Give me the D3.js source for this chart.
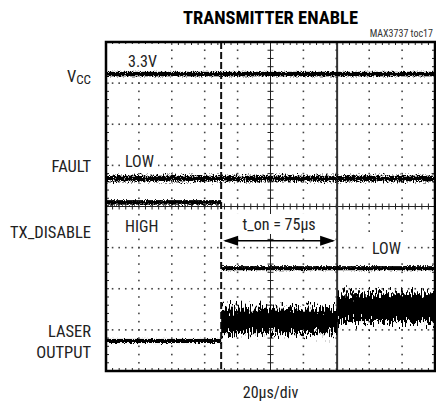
<!DOCTYPE html>
<html>
<head>
<meta charset="utf-8">
<script src="https://cdn.jsdelivr.net/npm/d3@7"></script>
<style>
  body { margin: 0; background: #fff; }
  text { font-family: "Liberation Sans Narrow", "Arial Narrow", "Roboto Condensed", sans-serif; }
</style>
</head>
<body>
<div id="graf"></div>
<script>
// time axis in µs (20µs/div, 10 div), vertical in divisions (8 div)
const timeDomain = [-100, 100];
const divDomain = [-4, 4];

// trace segments: [t start, t end, level (div), half thickness (div)]
const vccTrace = [[-100, 100, 3.22, 0.055]];
const faultTrace = [[-100, 100, 0.68, 0.07]];
const txTrace = [[-100, -30, 0.1, 0.055], [-30, 100, -1.5, 0.05]];
const laserTrace = [[-100, -30, -3.27, 0.05], [-30, 40.5, -2.77, 0.31], [40.5, 100, -2.46, 0.35]];

const cursors = [-30, 40.5];
const channelNames = ["V", "FAULT", "TX_DISABLE", "LASER", "OUTPUT"];
const stateLabels = ["3.3V", "LOW", "HIGH", "LOW"];

let width = 436, height = 406;
let x = d3.scaleLinear().domain(timeDomain).range([106, 435]);
let y = d3.scaleLinear().domain(divDomain).range([371, 42]);

let svg = d3.select("#graf").append("svg")
            .attr("width", width)
            .attr("height", height)
            .attr("viewBox", [0, 0, width, height]);

const defs = svg.append("defs");
function noiseFilter(id, freq, scale, seed) {
    const f = defs.append("filter").attr("id", id)
        .attr("filterUnits", "userSpaceOnUse")
        .attr("x", 100).attr("y", 40).attr("width", 340).attr("height", 335);
    f.append("feTurbulence").attr("type", "fractalNoise")
        .attr("baseFrequency", freq).attr("numOctaves", 2).attr("seed", seed).attr("result", "t");
    f.append("feColorMatrix").attr("in", "t").attr("type", "matrix")
        .attr("values", "0 0 0 0 0.5  0 1.6 0 0 -0.3  0 0 0 0 0  0 0 0 0 1").attr("result", "m");
    f.append("feDisplacementMap").attr("in", "SourceGraphic").attr("in2", "m")
        .attr("scale", scale).attr("xChannelSelector", "R").attr("yChannelSelector", "G");
}
noiseFilter("nThin", "0.9 0.9", 3, 4);
noiseFilter("nMid", "0.9 0.6", 6, 7);
noiseFilter("nWide", "0.75 0.15", 17, 2);

// title
svg.append("text").attr("x", x(0)).attr("y", 24).attr("text-anchor", "middle")
    .attr("font-size", 18.5).attr("font-weight", "bold").text("TRANSMITTER ENABLE");
svg.append("text").attr("x", 433).attr("y", 37).attr("text-anchor", "end")
    .attr("font-size", 10).attr("fill", "#333").text("MAX3737 toc17");

// grid dots
const grid = svg.append("g").attr("fill", "#444");
const tMinor = d3.range(-100, 100.01, 4);
const vMinor = d3.range(-4, 4.01, 0.2);
d3.range(-80, 81, 20).filter(t => t !== 0).forEach(t => {
    grid.selectAll(null).data(vMinor).join("rect")
        .attr("x", x(t) - 0.8).attr("y", v => y(v) - 0.8).attr("width", 1.6).attr("height", 1.6);
});
d3.range(-3, 3.01, 1).filter(v => v !== 0).forEach(v => {
    grid.selectAll(null).data(tMinor).join("rect")
        .attr("x", t => x(t) - 0.8).attr("y", y(v) - 0.8).attr("width", 1.6).attr("height", 1.6);
});

// center axes with ticks, frame ticks
const ax = svg.append("g").attr("stroke", "#222").attr("stroke-width", 1);
ax.append("line").attr("x1", x(-100)).attr("x2", x(100)).attr("y1", y(0)).attr("y2", y(0));
ax.append("line").attr("x1", x(0)).attr("x2", x(0)).attr("y1", y(-4)).attr("y2", y(4));
ax.selectAll(null).data(tMinor).join("line")
    .attr("x1", t => x(t)).attr("x2", t => x(t)).attr("y1", y(0) - 3).attr("y2", y(0) + 3);
ax.selectAll(null).data(vMinor).join("line")
    .attr("y1", v => y(v)).attr("y2", v => y(v)).attr("x1", x(0) - 3).attr("x2", x(0) + 3);
ax.selectAll(null).data(tMinor).join("line")
    .attr("x1", t => x(t)).attr("x2", t => x(t)).attr("y1", y(4)).attr("y2", y(4) + 3);
ax.selectAll(null).data(tMinor).join("line")
    .attr("x1", t => x(t)).attr("x2", t => x(t)).attr("y1", y(-4)).attr("y2", y(-4) - 3);
ax.selectAll(null).data(vMinor).join("line")
    .attr("y1", v => y(v)).attr("y2", v => y(v)).attr("x1", x(-100)).attr("x2", x(-100) + 3);
ax.selectAll(null).data(vMinor).join("line")
    .attr("y1", v => y(v)).attr("y2", v => y(v)).attr("x1", x(100)).attr("x2", x(100) - 3);

// label backgrounds inside plot
const bg = [[107, 44, 62, 26], [122, 155, 36, 18], [118, 216, 46, 22], [368, 238, 38, 20], [236, 214, 90, 20]];
svg.append("g").selectAll("rect").data(bg).join("rect")
    .attr("x", d => d[0]).attr("y", d => d[1]).attr("width", d => d[2]).attr("height", d => d[3])
    .attr("fill", "#fff");

// cursors
svg.append("line").attr("x1", x(cursors[0])).attr("x2", x(cursors[0]))
    .attr("y1", y(4)).attr("y2", y(-4)).attr("stroke", "#111").attr("stroke-width", 2)
    .attr("stroke-dasharray", "7,3");
svg.append("line").attr("x1", x(cursors[1])).attr("x2", x(cursors[1]))
    .attr("y1", y(4)).attr("y2", y(-4)).attr("stroke", "#333").attr("stroke-width", 2);

// traces
function drawTrace(segs, filt) {
    svg.append("g").attr("filter", `url(#${filt})`).selectAll("rect").data(segs).join("rect")
        .attr("x", d => x(d[0])).attr("width", d => x(d[1]) - x(d[0]))
        .attr("y", d => y(d[2] + d[3])).attr("height", d => y(d[2] - d[3]) - y(d[2] + d[3]))
        .attr("fill", "#000");
}
drawTrace(vccTrace, "nThin");
drawTrace(faultTrace, "nMid");
drawTrace(txTrace, "nThin");
drawTrace(laserTrace.slice(0, 1), "nThin");
drawTrace(laserTrace.slice(1), "nWide");

// frame
svg.append("rect").attr("x", x(-100)).attr("y", y(4))
    .attr("width", x(100) - x(-100)).attr("height", y(-4) - y(4))
    .attr("fill", "none").attr("stroke", "#000").attr("stroke-width", 2.5);

// t_on arrow
const ay = y(-0.83);
const ar = svg.append("g").attr("fill", "#000");
ar.append("line").attr("x1", x(cursors[0]) + 4).attr("x2", x(cursors[1]) - 4)
    .attr("y1", ay).attr("y2", ay).attr("stroke", "#000").attr("stroke-width", 1.5);
ar.append("path").attr("d", d3.line()([[x(cursors[0]) + 2, ay], [x(cursors[0]) + 17, ay - 5], [x(cursors[0]) + 17, ay + 5]]));
ar.append("path").attr("d", d3.line()([[x(cursors[1]) - 2, ay], [x(cursors[1]) - 17, ay - 5], [x(cursors[1]) - 17, ay + 5]]));
svg.append("text").attr("x", (x(cursors[0]) + x(cursors[1])) / 2).attr("y", 230)
    .attr("text-anchor", "middle").attr("font-size", 16).attr("fill", "#222").text("t_on = 75µs");

// state labels
const st = svg.append("g").attr("font-size", 16).attr("fill", "#222");
st.append("text").attr("x", 128).attr("y", 67).text(stateLabels[0]);
st.append("text").attr("x", 125).attr("y", 167).text(stateLabels[1]);
st.append("text").attr("x", 125).attr("y", 232).text(stateLabels[2]);
st.append("text").attr("x", 372).attr("y", 254).text(stateLabels[3]);

// channel names
const cn = svg.append("g").attr("font-size", 16.5).attr("fill", "#222").attr("text-anchor", "end");
const v = cn.append("text").attr("x", 91).attr("y", 82);
v.append("tspan").text(channelNames[0]);
v.append("tspan").attr("font-size", 13).attr("dy", 2).text("CC");
cn.append("text").attr("x", 91).attr("y", 172).text(channelNames[1]);
cn.append("text").attr("x", 91).attr("y", 238).text(channelNames[2]);
cn.append("text").attr("x", 91).attr("y", 337).text(channelNames[3]);
cn.append("text").attr("x", 91).attr("y", 358).text(channelNames[4]);

svg.append("text").attr("x", x(0)).attr("y", 398).attr("text-anchor", "middle")
    .attr("font-size", 16).attr("fill", "#222").text("20µs/div");
</script>
</body>
</html>
